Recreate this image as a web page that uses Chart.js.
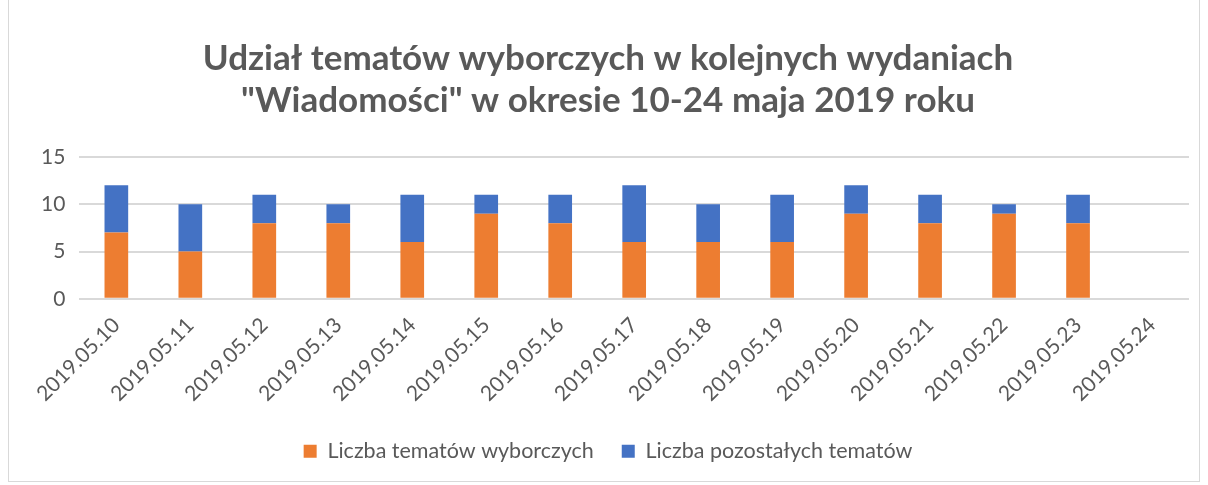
<!DOCTYPE html>
<html>
<head>
<meta charset="utf-8">
<script src="https://cdn.jsdelivr.net/npm/chart.js@4"></script>
<style>
    html, body { margin: 0; padding: 0; background: #fff; }
    #wrap { position: absolute; left: 8px; top: -2px; width: 1192px; height: 484px; border: 1px solid #d9d9d9; box-sizing: border-box; }
</style>
</head>
<body>
<div id="wrap"><canvas id="myChart"></canvas></div>
<script>
const labels = ['2019.05.10', '2019.05.11', '2019.05.12', '2019.05.13', '2019.05.14', '2019.05.15', '2019.05.16',
    '2019.05.17', '2019.05.18', '2019.05.19', '2019.05.20', '2019.05.21', '2019.05.22', '2019.05.23', '2019.05.24'];
const wyborcze = [7, 5, 8, 8, 6, 9, 8, 6, 6, 6, 9, 8, 9, 8, null];
const pozostale = [5, 5, 3, 2, 5, 2, 3, 6, 4, 5, 3, 3, 1, 3, null];
const yTicks = [0, 5, 10, 15];

const font = 'Lato, "Noto Sans", sans-serif';
const grey = '#595959';

const ctx = document.getElementById('myChart').getContext('2d');
const myChart = new Chart(ctx, {
    type: 'bar',
    data: {
        labels: labels,
        datasets: [{
                label: 'Liczba tematów wyborczych',
                data: wyborcze,
                backgroundColor: '#ed7d31',
                barPercentage: 0.32,
                categoryPercentage: 1
            }, {
                label: 'Liczba pozostałych tematów',
                data: pozostale,
                backgroundColor: '#4472c4',
                barPercentage: 0.32,
                categoryPercentage: 1
            }]
    },
    options: {
        responsive: true,
        maintainAspectRatio: false,
        animation: false,
        layout: { padding: { left: 18, right: 10, top: 14, bottom: 9 } },
        plugins: {
            title: {
                display: true,
                text: ['Udział tematów wyborczych w kolejnych wydaniach', '"Wiadomości" w okresie 10-24 maja 2019 roku'],
                color: grey,
                font: { family: font, size: 35, weight: 'bold' },
                lineHeight: 1.23,
                padding: { top: 25, bottom: 35 }
            },
            legend: {
                position: 'bottom',
                labels: {
                    color: grey,
                    font: { family: font, size: 21.5 },
                    boxWidth: 13,
                    boxHeight: 13,
                    padding: 28
                }
            },
            tooltip: { enabled: false }
        },
        scales: {
            x: {
                stacked: true,
                grid: { display: false },
                border: { display: false },
                ticks: {
                    color: grey,
                    font: { family: font, size: 21 },
                    minRotation: 45,
                    maxRotation: 45,
                    padding: 6
                }
            },
            y: {
                stacked: true,
                min: 0,
                max: 15,
                afterBuildTicks: function (axis) {
                    axis.ticks = yTicks.map(v => ({ value: v }));
                },
                grid: { color: '#d9d9d9', lineWidth: 2, drawTicks: false },
                border: { display: false },
                ticks: {
                    color: grey,
                    font: { family: font, size: 21 },
                    padding: 14
                }
            }
        }
    }
});
</script>
</body>
</html>
